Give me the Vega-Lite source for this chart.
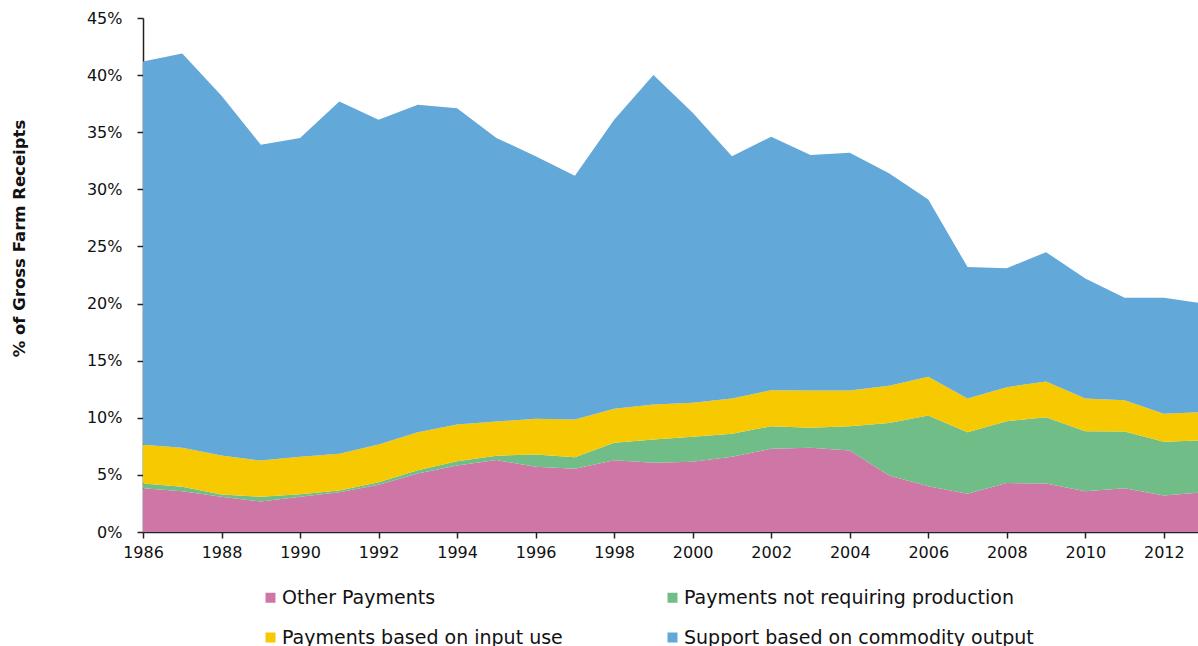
{
  "$schema": "https://vega.github.io/schema/vega-lite/v6.json",
  "autosize": {"type": "none"},
  "padding": {"left": 143, "top": 18, "right": 0, "bottom": 114},
  "width": 1055,
  "height": 514,
  "background": "white",
  "config": {
    "view": {"stroke": null},
    "font": "DejaVu Sans"
  },
  "datasets": {
    "wide": [
      {"year": 1986, "Other Payments": 3.83, "Payments not requiring production": 0.42, "Payments based on input use": 3.38, "Support based on commodity output": 33.57},
      {"year": 1987, "Other Payments": 3.57, "Payments not requiring production": 0.39, "Payments based on input use": 3.41, "Support based on commodity output": 34.53},
      {"year": 1988, "Other Payments": 3.08, "Payments not requiring production": 0.20, "Payments based on input use": 3.42, "Support based on commodity output": 31.50},
      {"year": 1989, "Other Payments": 2.67, "Payments not requiring production": 0.41, "Payments based on input use": 3.18, "Support based on commodity output": 27.64},
      {"year": 1990, "Other Payments": 3.08, "Payments not requiring production": 0.23, "Payments based on input use": 3.27, "Support based on commodity output": 27.92},
      {"year": 1991, "Other Payments": 3.49, "Payments not requiring production": 0.14, "Payments based on input use": 3.22, "Support based on commodity output": 30.85},
      {"year": 1992, "Other Payments": 4.13, "Payments not requiring production": 0.23, "Payments based on input use": 3.30, "Support based on commodity output": 28.44},
      {"year": 1993, "Other Payments": 5.12, "Payments not requiring production": 0.29, "Payments based on input use": 3.33, "Support based on commodity output": 28.66},
      {"year": 1994, "Other Payments": 5.82, "Payments not requiring production": 0.38, "Payments based on input use": 3.21, "Support based on commodity output": 27.69},
      {"year": 1995, "Other Payments": 6.30, "Payments not requiring production": 0.38, "Payments based on input use": 3.00, "Support based on commodity output": 24.82},
      {"year": 1996, "Other Payments": 5.71, "Payments not requiring production": 1.08, "Payments based on input use": 3.12, "Support based on commodity output": 22.99},
      {"year": 1997, "Other Payments": 5.53, "Payments not requiring production": 1.02, "Payments based on input use": 3.30, "Support based on commodity output": 21.35},
      {"year": 1998, "Other Payments": 6.29, "Payments not requiring production": 1.52, "Payments based on input use": 2.98, "Support based on commodity output": 25.31},
      {"year": 1999, "Other Payments": 6.06, "Payments not requiring production": 2.04, "Payments based on input use": 3.06, "Support based on commodity output": 28.84},
      {"year": 2000, "Other Payments": 6.15, "Payments not requiring production": 2.19, "Payments based on input use": 2.97, "Support based on commodity output": 25.39},
      {"year": 2001, "Other Payments": 6.58, "Payments not requiring production": 2.02, "Payments based on input use": 3.09, "Support based on commodity output": 21.21},
      {"year": 2002, "Other Payments": 7.28, "Payments not requiring production": 1.98, "Payments based on input use": 3.16, "Support based on commodity output": 22.18},
      {"year": 2003, "Other Payments": 7.37, "Payments not requiring production": 1.75, "Payments based on input use": 3.27, "Support based on commodity output": 20.61},
      {"year": 2004, "Other Payments": 7.14, "Payments not requiring production": 2.12, "Payments based on input use": 3.13, "Support based on commodity output": 20.81},
      {"year": 2005, "Other Payments": 4.95, "Payments not requiring production": 4.60, "Payments based on input use": 3.25, "Support based on commodity output": 18.60},
      {"year": 2006, "Other Payments": 4.01, "Payments not requiring production": 6.19, "Payments based on input use": 3.39, "Support based on commodity output": 15.51},
      {"year": 2007, "Other Payments": 3.34, "Payments not requiring production": 5.40, "Payments based on input use": 2.95, "Support based on commodity output": 11.51},
      {"year": 2008, "Other Payments": 4.28, "Payments not requiring production": 5.42, "Payments based on input use": 2.98, "Support based on commodity output": 10.42},
      {"year": 2009, "Other Payments": 4.25, "Payments not requiring production": 5.80, "Payments based on input use": 3.13, "Support based on commodity output": 11.32},
      {"year": 2010, "Other Payments": 3.57, "Payments not requiring production": 5.26, "Payments based on input use": 2.86, "Support based on commodity output": 10.51},
      {"year": 2011, "Other Payments": 3.84, "Payments not requiring production": 4.96, "Payments based on input use": 2.74, "Support based on commodity output": 8.96},
      {"year": 2012, "Other Payments": 3.20, "Payments not requiring production": 4.70, "Payments based on input use": 2.45, "Support based on commodity output": 10.15},
      {"year": 2013, "Other Payments": 3.47, "Payments not requiring production": 4.56, "Payments based on input use": 2.48, "Support based on commodity output": 9.49}
    ]
  },
  "data": {"name": "wide"},
  "transform": [
    {"fold": ["Other Payments", "Payments not requiring production", "Payments based on input use", "Support based on commodity output"], "as": ["category", "value"]},
    {"calculate": "indexof(['Other Payments', 'Payments not requiring production', 'Payments based on input use', 'Support based on commodity output'], datum.category)", "as": "stackOrder"}
  ],
  "mark": {"type": "area", "clip": true, "interpolate": "linear"},
  "encoding": {
    "x": {
      "field": "year",
      "type": "quantitative",
      "scale": {"domain": [1986, 2012.87], "nice": false, "zero": false},
      "axis": {
        "title": null,
        "values": [1986, 1988, 1990, 1992, 1994, 1996, 1998, 2000, 2002, 2004, 2006, 2008, 2010, 2012],
        "format": "d",
        "grid": false,
        "domainColor": "#222",
        "domainWidth": 1.5,
        "tickColor": "#222",
        "tickWidth": 1.5,
        "tickSize": 6,
        "labelFontSize": 16,
        "labelColor": "#111",
        "labelPadding": 6,
        "labelFlush": false
      }
    },
    "y": {
      "field": "value",
      "type": "quantitative",
      "stack": "zero",
      "scale": {"domain": [0, 45], "nice": false},
      "axis": {
        "title": "% of Gross Farm Receipts",
        "titleFontSize": 16.5,
        "titleFontWeight": "bold",
        "titleColor": "#111",
        "titleAngle": -90,
        "titleX": -124,
        "titleY": 220,
        "titleAlign": "center",
        "titleBaseline": "middle",
        "values": [0, 5, 10, 15, 20, 25, 30, 35, 40, 45],
        "labelExpr": "datum.value + '%'",
        "grid": false,
        "domainColor": "#222",
        "domainWidth": 1.5,
        "tickColor": "#222",
        "tickWidth": 1.5,
        "tickSize": 6,
        "labelFontSize": 16,
        "labelColor": "#111",
        "labelPadding": 15
      }
    },
    "order": {"field": "stackOrder", "type": "quantitative", "sort": "ascending"},
    "color": {
      "field": "category",
      "type": "nominal",
      "sort": ["Other Payments", "Payments not requiring production", "Payments based on input use", "Support based on commodity output"],
      "scale": {
        "domain": ["Other Payments", "Payments not requiring production", "Payments based on input use", "Support based on commodity output"],
        "range": ["#CE76A6", "#71BD87", "#F7C900", "#62A8D9"]
      },
      "legend": {
        "title": null,
        "orient": "none",
        "legendX": 118,
        "legendY": 570,
        "direction": "horizontal",
        "columns": 2,
        "columnPadding": 100,
        "rowPadding": 20,
        "symbolType": "square",
        "symbolSize": 100,
        "symbolStrokeWidth": 0,
        "symbolOpacity": 1,
        "labelFontSize": 19,
        "labelColor": "#111",
        "labelOffset": 2,
        "labelLimit": 500
      }
    }
  }
}
